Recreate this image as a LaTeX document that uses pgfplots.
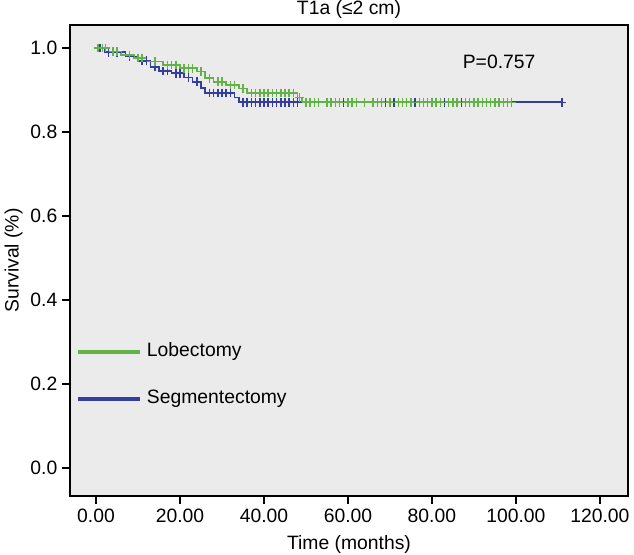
\documentclass[border=0pt]{standalone}
\usepackage{fontspec}
\setmainfont{Liberation Sans}
\usepackage{pgfplots}
\pgfplotsset{compat=1.18}
\usetikzlibrary{calc}

\definecolor{lobe}{RGB}{98,178,72}
\definecolor{segm}{RGB}{52,62,160}
\definecolor{panel}{RGB}{235,235,235}

% Kaplan-Meier steps (time, survival)
\pgfplotstableread{
t s
0 1.000
3 0.992
6 0.984
9 0.976
12 0.968
16 0.960
20 0.952
24 0.944
26 0.928
28 0.920
31 0.912
34 0.904
36 0.893
48 0.882
49 0.871
99 0.871
}\lobesteps

\pgfplotstableread{
t s
0 1.000
2 0.990
7 0.980
10 0.970
13 0.955
15 0.945
18 0.940
21 0.930
23 0.920
25 0.905
26 0.893
33 0.882
34 0.871
111 0.871
}\segmsteps

% censored observations
\pgfplotstableread{
t s
0.5 1.000
1.5 1.000
2.2 1.000
4 0.992
5 0.992
8 0.984
10 0.976
11 0.976
14 0.968
17 0.960
18 0.960
19 0.960
21 0.952
22 0.952
23 0.952
25 0.944
27 0.928
29 0.920
30 0.920
32 0.912
33 0.912
35 0.904
37 0.893
38 0.893
39 0.893
40 0.893
41 0.893
42 0.893
43 0.893
44 0.893
45 0.893
46 0.893
47 0.893
48.5 0.882
50 0.871
51 0.871
52 0.871
53 0.871
55 0.871
56 0.871
57 0.871
58 0.871
60 0.871
61 0.871
62 0.871
64 0.871
66 0.871
67 0.871
68 0.871
70 0.871
72 0.871
73 0.871
74 0.871
75 0.871
77 0.871
78 0.871
79 0.871
80 0.871
81 0.871
82 0.871
84 0.871
85 0.871
86 0.871
88 0.871
89 0.871
90 0.871
91 0.871
92 0.871
93 0.871
94 0.871
95 0.871
96 0.871
97 0.871
98 0.871
99 0.871
}\lobecens

\pgfplotstableread{
t s
1 1.000
3 0.990
5 0.990
8 0.980
11 0.970
12 0.970
14 0.955
16 0.945
17 0.945
19 0.940
20 0.940
22 0.930
24 0.920
27 0.893
28 0.893
29 0.893
30 0.893
31 0.893
32 0.893
35 0.871
36 0.871
37 0.871
38 0.871
39 0.871
40 0.871
41 0.871
42 0.871
43 0.871
44 0.871
45 0.871
46 0.871
47 0.871
48 0.871
50 0.871
53 0.871
55 0.871
57 0.871
59 0.871
61 0.871
62 0.871
64 0.871
66 0.871
68 0.871
69 0.871
71 0.871
73 0.871
75 0.871
76 0.871
78 0.871
80 0.871
81 0.871
83 0.871
85 0.871
87 0.871
88 0.871
90 0.871
92 0.871
111 0.871
}\segmcens

\begin{document}
\begin{tikzpicture}[font=\fontsize{14.5}{17}\selectfont]
\begin{axis}[
    name=ax,
    scale only axis,
    width=418.5pt,
    height=353.25pt,
    xmin=-6.2, xmax=126.7,
    ymin=-0.067, ymax=1.055,
    xtick={0,20,40,60,80,100,120},
    ytick={0,0.2,0.4,0.6,0.8,1.0},
    xticklabel style={/pgf/number format/.cd, fixed, fixed zerofill, precision=2},
    yticklabel style={/pgf/number format/.cd, fixed, fixed zerofill, precision=1},
    /pgf/number format/assume math mode=true,
    tick pos=left,
    tick align=outside,
    major tick length=6pt,
    tick style={black, line width=1.2pt},
    axis line style={black, line width=1.1pt},
    axis background/.style={fill=panel},
    xlabel={Time (months)},
    ylabel={Survival (\%)},
    title={T1a (≤2 cm)},
    title style={yshift=-5pt},
    xlabel style={yshift=-3pt},
    ylabel style={yshift=-1pt},
    legend style={
        at={(axis cs:-4.76,0.300)},
        anchor=north west,
        draw=none, fill=none,
        inner sep=0pt,
        row sep=21.25pt,
        nodes={inner sep=0pt, text height=11pt, text depth=3pt},
    },
    legend cell align=left,
    legend image code/.code={\draw[line width=3pt] (0pt,0pt) -- (46.5pt,0pt);},
    /tikz/every odd column/.append style={column sep=3.5pt},
    reverse legend,
    clip=false,
]
\addplot[segm, line width=1.3pt, const plot] table[x=t, y=s] {\segmsteps};
\addlegendentry{Segmentectomy}
\addplot[lobe, line width=1.3pt, const plot] table[x=t, y=s] {\lobesteps};
\addlegendentry{Lobectomy}
\addplot[forget plot, segm, only marks, mark=+, mark size=3.2pt, line width=1.1pt] table[x=t, y=s] {\segmcens};
\addplot[forget plot, lobe, only marks, mark=+, mark size=3.2pt, line width=1.1pt] table[x=t, y=s] {\lobecens};
\node[anchor=center] at (axis cs:96,0.967) {P=0.757};
\end{axis}
\pgfresetboundingbox
\path[use as bounding box] ($(ax.south west)+(-52.5pt,-43.5pt)$) rectangle ($(ax.north east)+(4.5pt,18.75pt)$);
\end{tikzpicture}
\end{document}
